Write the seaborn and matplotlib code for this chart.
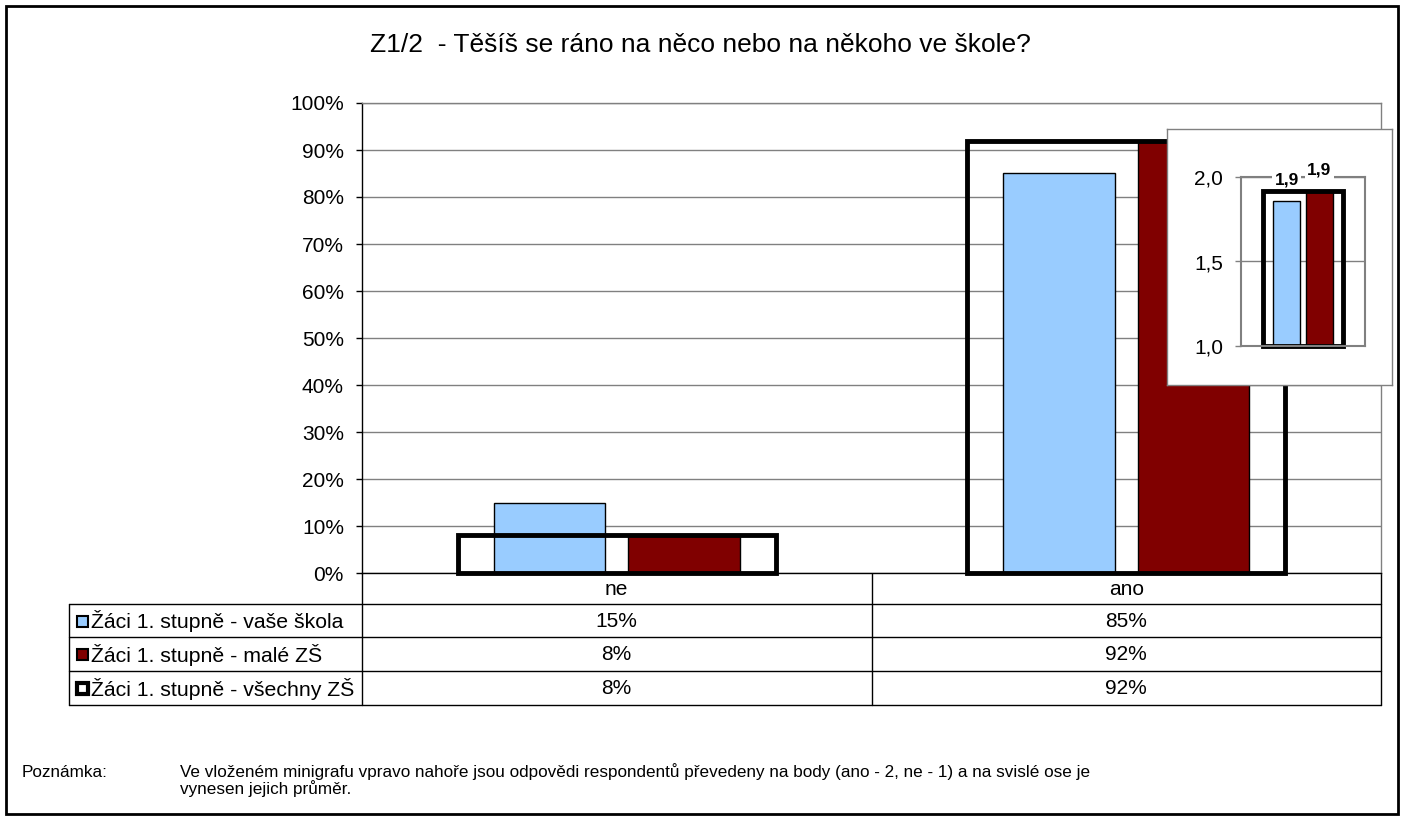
import numpy as np
import pandas as pd
import matplotlib
matplotlib.use('Agg')
import matplotlib.pyplot as plt
import seaborn as sns
from matplotlib.patches import Rectangle

titulek = 'Z1/2  - Těšíš se ráno na něco nebo na někoho ve škole?'
kategorie = ['ne', 'ano']
serie = ['Žáci 1. stupně - vaše škola', 'Žáci 1. stupně - malé ZŠ', 'Žáci 1. stupně - všechny ZŠ']
vase_skola = [15, 85]
male_zs = [8, 92]
vsechny_zs = [8, 92]
# prumer bodu (ano - 2, ne - 1) pro minigraf
body = [1.86, 1.92, 1.92]
poznamka_1 = 'Ve vloženém minigrafu vpravo nahoře jsou odpovědi respondentů převedeny na body (ano - 2, ne - 1) a na svislé ose je'
poznamka_2 = 'vynesen jejich průměr.'

modra = '#99CCFF'
cervena = '#800000'
seda = '#808080'

W, H = 1405, 821


def fax(l, t, r, b):
    # pixel box -> figure fraction
    return [l / W, 1 - b / H, (r - l) / W, (b - t) / H]


sns.set_theme(style='white')
plt.rcParams['font.family'] = ['Liberation Sans', 'DejaVu Sans']
plt.rcParams['text.color'] = 'black'
plt.rcParams['ytick.color'] = 'black'
plt.rcParams['xtick.color'] = 'black'

fig = plt.figure(figsize=(W / 100, H / 100), dpi=100)

# pozadi: ramecek, tabulka, poznamka
bg = fig.add_axes([0, 0, 1, 1], zorder=-1)
bg.set_xlim(0, W)
bg.set_ylim(H, 0)
bg.axis('off')
bg.add_patch(Rectangle((6, 6), 1392, 808, fill=False, ec='black', lw=2))

# hlavni graf
L, T, R, B = 362, 103, 1381, 573
ax = fig.add_axes(fax(L, T, R, B))
df_main = pd.DataFrame({
    'kat': kategorie * 2,
    'skupina': [serie[0]] * len(kategorie) + [serie[1]] * len(kategorie),
    'hodnota': vase_skola + male_zs,
})
sns.barplot(data=df_main, x='kat', y='hodnota', hue='skupina', hue_order=serie[:2],
            order=kategorie, palette=[modra, cervena], saturation=1, width=0.528, gap=0.17,
            edgecolor='black', linewidth=1, errorbar=None, legend=False, ax=ax)
sns.barplot(x=kategorie, y=vsechny_zs, order=kategorie, width=0.624, fill=False,
            color='black', saturation=1, linewidth=3.5, errorbar=None, ax=ax)
for p in ax.containers[-1]:
    p.set_clip_on(False)
    p.set_edgecolor('black')
    p.set_facecolor('none')
    p.set_linewidth(3.5)
    p.set_joinstyle('miter')

ax.set_xlim(-0.5, len(kategorie) - 0.5)
ax.set_ylim(0, 100)
ax.set_yticks(range(0, 101, 10))
ax.set_yticklabels([f'{v}%' for v in range(0, 101, 10)])
ax.set_xticks([])
ax.set_xlabel('')
ax.set_ylabel('')
ax.yaxis.grid(True, color=seda, lw=1)
ax.set_axisbelow(True)
ax.tick_params(axis='y', left=True, length=4, width=1, color='black', labelsize=15, pad=9)
ax.spines['left'].set_color('black')
ax.spines['bottom'].set_color('black')
ax.spines['top'].set_color(seda)
ax.spines['right'].set_color(seda)
for s in ax.spines.values():
    s.set_linewidth(1)

# tabulka pod grafem
radky = [604, 637, 671, 705]
sirka_kat = (R - L) / len(kategorie)
bg.plot([L, L], [B, radky[-1]], color='black', lw=1)
bg.plot([R, R], [B, radky[-1]], color='black', lw=1)
for i in range(1, len(kategorie)):
    xx = L + i * sirka_kat
    bg.plot([xx, xx], [B, radky[-1]], color='black', lw=1)
bg.plot([69, 69], [radky[0], radky[-1]], color='black', lw=1)
for yy in radky:
    bg.plot([69, R], [yy, yy], color='black', lw=1)
for i, k in enumerate(kategorie):
    bg.text(L + (i + 0.5) * sirka_kat, (B + radky[0]) / 2 + 1, k, ha='center', va='center', fontsize=15)

hodnoty = [vase_skola, male_zs, vsechny_zs]
barvy = [modra, cervena, 'white']
for r, (nazev, vals, c) in enumerate(zip(serie, hodnoty, barvy)):
    yc = (radky[r] + radky[r + 1]) / 2 + 1
    lw = 3 if c == 'white' else 1.5
    bg.add_patch(Rectangle((77, yc - 5.5), 11, 11, fc=c, ec='black', lw=lw))
    bg.text(91, yc, nazev, ha='left', va='center', fontsize=15.3)
    for i, v in enumerate(vals):
        bg.text(L + (i + 0.5) * sirka_kat, yc, f'{v}%', ha='center', va='center', fontsize=15)

# titulek a poznamka
fig.text(700 / W, 1 - 45 / H, titulek, ha='center', va='center', fontsize=19)
fig.text(22 / W, 1 - 772 / H, 'Poznámka:', ha='left', va='center', fontsize=12.3)
fig.text(180 / W, 1 - 772 / H, poznamka_1, ha='left', va='center', fontsize=12.3)
fig.text(180 / W, 1 - 789 / H, poznamka_2, ha='left', va='center', fontsize=12.3)

# minigraf vpravo nahore
box = fig.add_axes(fax(1167, 129, 1392, 385), zorder=1)
box.set_xticks([])
box.set_yticks([])
box.set_facecolor('white')
for s in box.spines.values():
    s.set_color(seda)
    s.set_linewidth(1)

ins = fig.add_axes(fax(1241, 177, 1365, 346), zorder=2)
ins.patch.set_alpha(0)
df_in = pd.DataFrame({'kat': ['průměr'] * 2, 'skupina': serie[:2], 'hodnota': body[:2]})
sns.barplot(data=df_in, x='kat', y='hodnota', hue='skupina', hue_order=serie[:2],
            palette=[modra, cervena], saturation=1, width=0.528, gap=0.17, edgecolor='black',
            linewidth=1, errorbar=None, legend=False, ax=ins)
sns.barplot(x=['průměr'], y=[body[2]], width=0.645, fill=False, color='black',
            saturation=1, linewidth=3.5, errorbar=None, ax=ins)
for p in ins.patches:
    h = p.get_height()
    p.set_y(1.0)
    p.set_height(h - 1.0)
for p in ins.containers[-1]:
    p.set_clip_on(False)
    p.set_edgecolor('black')
    p.set_facecolor('none')
    p.set_linewidth(3.5)
    p.set_joinstyle('miter')
for cont in ins.containers[:2]:
    for p in cont:
        top = p.get_y() + p.get_height()
        ins.annotate(f'{top:.1f}'.replace('.', ','), (p.get_x() + p.get_width() / 2, top),
                     xytext=(0, 15), textcoords='offset points', ha='center', va='center',
                     fontsize=12.5, fontweight='bold',
                     bbox=dict(fc='white', ec='none', pad=1.5))
ins.set_xlim(-0.5, 0.5)
ins.set_ylim(1, 2)
ins.set_yticks([1, 1.5, 2])
ins.set_yticklabels(['1,0', '1,5', '2,0'])
ins.set_xticks([])
ins.set_xlabel('')
ins.set_ylabel('')
ins.yaxis.grid(True, color=seda, lw=1)
ins.set_axisbelow(True)
ins.tick_params(axis='y', left=True, length=4, width=1, color=seda, labelsize=15, pad=9)
for s in ins.spines.values():
    s.set_color(seda)
    s.set_linewidth(1.5)

fig.savefig('out.png', dpi=100, facecolor='white')
